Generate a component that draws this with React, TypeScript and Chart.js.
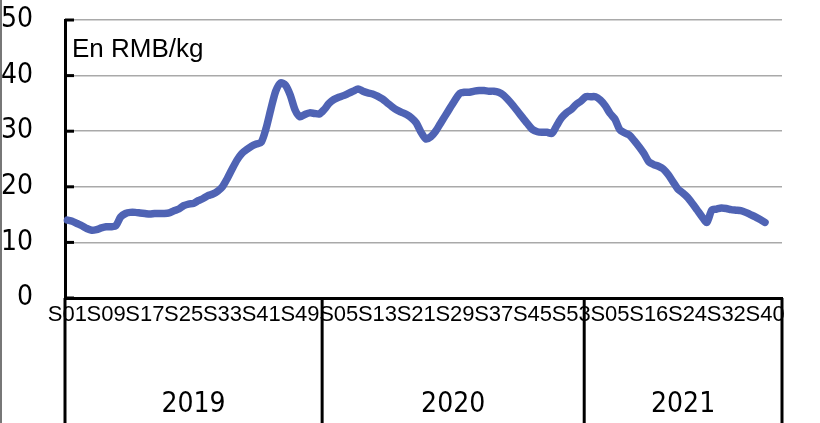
import React, { useEffect, useRef } from 'react';
import { Chart, registerables } from 'chart.js';

Chart.register(...registerables);

// ---- data ----
const years = ['2019', '2020', '2021'];
const yearWeekCounts = [52, 53, 40];
const tickLabels = [
  'S01', 'S09', 'S17', 'S25', 'S33', 'S41', 'S49',
  'S05', 'S13', 'S21', 'S29', 'S37', 'S45', 'S53',
  'S05', 'S16', 'S24', 'S32', 'S40',
];
const TICK_STEP = 8;
const EXTRA_SLOTS = 3;
const unitLabel = 'En RMB/kg';
const yTickValues = [0, 10, 20, 30, 40, 50];

const prices2019 = [
  14.0, 13.8, 13.4, 13.0, 12.5, 12.2, 12.3, 12.6, 12.8, 12.8,
  13.0, 14.6, 15.2, 15.4, 15.4, 15.3, 15.2, 15.1, 15.2, 15.2,
  15.2, 15.3, 15.7, 16.0, 16.6, 16.9, 17.0, 17.5, 17.9, 18.4,
  18.7, 19.2, 20.0, 21.5, 23.2, 24.8, 26.0, 26.7, 27.3, 27.7,
  28.0, 30.5, 34.0, 37.2, 38.7, 38.3, 36.5, 33.8, 32.6, 33.0,
  33.3, 33.2,
];
const prices2020 = [
  33.1, 33.9, 35.0, 35.7, 36.1, 36.4, 36.8, 37.2, 37.6, 37.2,
  36.9, 36.7, 36.3, 35.8, 35.1, 34.4, 33.8, 33.4, 33.0, 32.4,
  31.5, 29.8, 28.6, 29.0, 30.0, 31.4, 32.8, 34.2, 35.6, 36.8,
  37.0, 37.0, 37.2, 37.3, 37.3, 37.2, 37.2, 37.0, 36.5, 35.6,
  34.6, 33.5, 32.4, 31.3, 30.3, 29.9, 29.8, 29.8, 29.6, 31.0,
  32.4, 33.3, 33.9,
];
const prices2021 = [
  34.8, 35.4, 36.2, 36.2, 36.2, 35.6, 34.6, 33.2, 32.2, 30.3,
  29.7, 29.3, 28.3, 27.2, 26.0, 24.5, 24.0, 23.7, 23.2, 22.2,
  20.9, 19.6, 18.9, 18.1, 17.0, 15.8, 14.6, 13.6, 15.8, 16.0,
  16.2, 16.1, 15.9, 15.8, 15.7, 15.4, 15.0, 14.6, 14.1, 13.6,
];

// ---- derived ----
const prices = [...prices2019, ...prices2020, ...prices2021];
const categories: string[] = [];
yearWeekCounts.forEach((n, yi) => {
  const count = yi === yearWeekCounts.length - 1 ? n + EXTRA_SLOTS : n;
  for (let w = 1; w <= count; w++) {
    categories.push(`${years[yi]}-S${String(w).padStart(2, '0')}`);
  }
});
const yearBounds: number[] = [0];
yearWeekCounts.forEach((n) => yearBounds.push(yearBounds[yearBounds.length - 1] + n));
const yearMids = yearWeekCounts.map((n, i) => yearBounds[i] + n / 2);
const totalWeeks = yearBounds[yearBounds.length - 1];

const NARROW = "'DejaVu Sans Condensed', 'Liberation Sans Narrow', sans-serif";
const SANS = "'Liberation Sans', Arial, sans-serif";

const framePlugin = {
  id: 'framePlugin',
  afterDraw(chart: any) {
    const ctx = chart.ctx;
    const yr = chart.scales.yr;
    const ys = chart.scales.y;
    const area = chart.chartArea;
    ctx.save();
    ctx.strokeStyle = '#000';
    ctx.lineWidth = 3;
    // year separators below the axis
    yearBounds.forEach((b) => {
      const x = yr.getPixelForValue(b);
      ctx.beginPath();
      ctx.moveTo(x, area.bottom);
      ctx.lineTo(x, chart.height);
      ctx.stroke();
    });
    // inward y tick marks
    yTickValues.forEach((v) => {
      const y = ys.getPixelForValue(v);
      ctx.beginPath();
      ctx.moveTo(area.left, y);
      ctx.lineTo(area.left + 9, y);
      ctx.stroke();
    });
    ctx.fillStyle = '#000';
    ctx.font = `26px ${SANS}`;
    ctx.textBaseline = 'alphabetic';
    ctx.textAlign = 'left';
    ctx.fillText(unitLabel, area.left + 7, area.top + 37);
    ctx.restore();
  },
};

export default function App() {
  const ref = useRef<HTMLCanvasElement | null>(null);

  useEffect(() => {
    if (!ref.current) return;
    const chart = new Chart(ref.current, {
      type: 'line',
      data: {
        labels: categories,
        datasets: [
          {
            data: prices,
            borderColor: '#4f63b4',
            borderWidth: 7.5,
            pointRadius: 0,
            tension: 0.25,
            borderJoinStyle: 'round',
            borderCapStyle: 'round',
            fill: false,
          },
        ],
      },
      options: {
        animation: false,
        responsive: true,
        maintainAspectRatio: false,
        layout: { autoPadding: false, padding: { top: 20, right: 38, left: 0, bottom: 0 } },
        plugins: { legend: { display: false }, title: { display: false }, tooltip: { enabled: false } },
        scales: {
          x: {
            type: 'category',
            offset: true,
            weight: 0,
            grid: { display: false, drawTicks: false },
            border: { display: true, color: '#000', width: 3 },
            ticks: {
              autoSkip: false,
              maxRotation: 0,
              minRotation: 0,
              padding: 4,
              color: '#000',
              font: { family: SANS, size: 22 },
              callback: (_v: any, i: number) =>
                i % TICK_STEP === 0 && tickLabels[i / TICK_STEP] ? tickLabels[i / TICK_STEP] : '',
            },
            afterFit: (s: any) => {
              s.height = 32;
              s.paddingLeft = 0;
              s.paddingRight = 0;
              s.paddingTop = 0;
              s.paddingBottom = 0;
            },
          },
          yr: {
            type: 'linear',
            position: 'bottom',
            weight: 1,
            min: 0,
            max: totalWeeks,
            grid: { display: false, drawTicks: false },
            border: { display: false },
            afterBuildTicks: (s: any) => {
              s.ticks = yearMids.map((v) => ({ value: v }));
            },
            ticks: {
              autoSkip: false,
              maxRotation: 0,
              minRotation: 0,
              padding: 58,
              color: '#000',
              font: { family: NARROW, size: 28 },
              callback: (_v: any, i: number) => years[i],
            },
            afterFit: (s: any) => {
              s.height = 93;
              s.paddingLeft = 0;
              s.paddingRight = 0;
              s.paddingTop = 0;
              s.paddingBottom = 0;
            },
          },
          y: {
            min: 0,
            max: 50,
            afterBuildTicks: (s: any) => {
              s.ticks = yTickValues.map((v) => ({ value: v }));
            },
            grid: {
              color: '#a9a9a9',
              lineWidth: 1.5,
              drawTicks: false,
            },
            border: { display: true, color: '#000', width: 3 },
            ticks: {
              padding: 32,
              color: '#000',
              font: { family: NARROW, size: 28 },
            },
            afterFit: (s: any) => {
              s.width = 65;
              s.paddingTop = 0;
              s.paddingBottom = 0;
            },
          },
        },
      },
      plugins: [framePlugin],
    });
    return () => chart.destroy();
  }, []);

  return (
    <div
      style={{
        position: 'fixed',
        left: 0,
        top: 0,
        width: 820,
        height: 423,
        background: '#fff',
        boxShadow: 'inset 2px 0 0 #777',
      }}
    >
      <canvas ref={ref} />
    </div>
  );
}
